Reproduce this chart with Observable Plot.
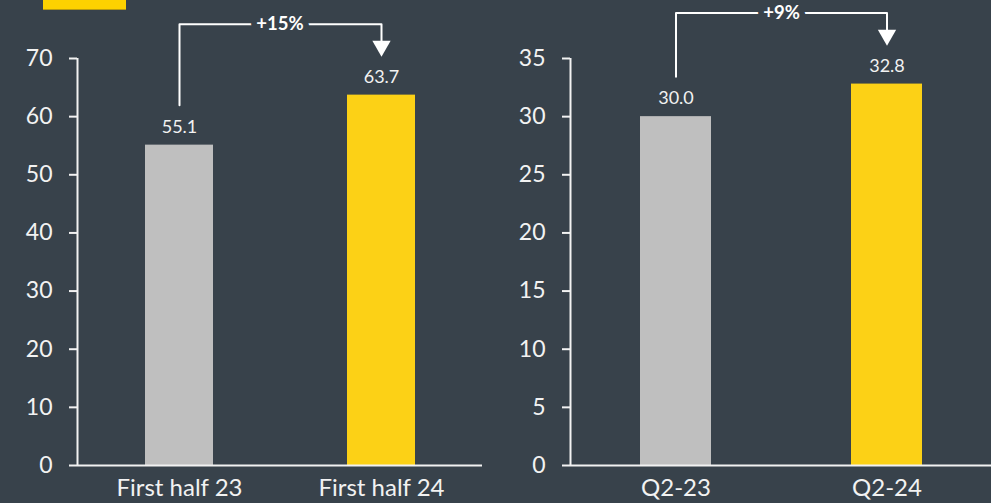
<!DOCTYPE html>
<html>
<head>
<meta charset="utf-8">
<script src="https://cdn.jsdelivr.net/npm/d3@7"></script>
<script src="https://cdn.jsdelivr.net/npm/@observablehq/plot@0.6"></script>
<style>
  html, body { margin: 0; padding: 0; background: #38424b; overflow: hidden; }
  #wrap { position: relative; width: 991px; height: 503px; background: #38424b; overflow: hidden; font-family: Lato, "Noto Sans", sans-serif; }
  #logo { position: absolute; left: 43px; top: 0; width: 83px; height: 9px; background: #fdd100; border-bottom: 1px solid #b89a10; }
  .panel { position: absolute; top: 0; width: 500px; height: 503px; }
  .panel svg { max-width: none !important; }
</style>
</head>
<body>
<div id="wrap">
  <div id="logo"></div>
  <div id="left" class="panel" style="left:0px"></div>
  <div id="right" class="panel" style="left:500px"></div>
</div>
<script>
// ---- data ----
const halfCategories = ["First half 23", "First half 24"];
const halfValues = [55.1, 63.7];
const halfChange = "+15%";
const halfTicks = [0, 10, 20, 30, 40, 50, 60, 70];

const quarterCategories = ["Q2-23", "Q2-24"];
const quarterValues = [30.0, 32.8];
const quarterChange = "+9%";
const quarterTicks = [0, 5, 10, 15, 20, 25, 30, 35];

const barColors = ["#bfbfbf", "#fcd116"];

// ---- styles ----
const BG = "#38424b";
const FG = "#f2f2f2";
const W = 500, H = 503, MT = 58, MB = 38;

function panel(categories, values, ticks, change, ml, mr) {
  const rows = categories.map((c, i) => ({cat: c, value: values[i], color: barColors[i]}));
  const yMax = ticks[ticks.length - 1];
  const k = (H - MT - MB) / yMax; // px per unit
  const frameW = W - ml - mr;
  const v1 = values[0], v2 = values[1];
  const yStart = v1 + 40 / k;
  const yTop = Math.max(v1, v2) + 71 / k;
  const yTip = v2 + 40 / k;
  const yTriTop = yTip + 14 / k;
  const path = [
    {cat: categories[0], y: yStart},
    {cat: categories[0], y: yTop},
    {cat: categories[1], y: yTop},
    {cat: categories[1], y: yTriTop}
  ];
  return Plot.plot({
    width: W,
    height: H,
    marginTop: MT,
    marginBottom: MB,
    marginLeft: ml,
    marginRight: mr,
    style: {background: "transparent", color: FG, fontFamily: "Lato, 'Noto Sans', sans-serif", overflow: "visible", maxWidth: "none"},
    x: {domain: categories, paddingInner: 0.664, paddingOuter: 0.332, label: null},
    y: {domain: [0, yMax], ticks: ticks, label: null},
    marks: [
      Plot.barY(rows, {x: "cat", y: "value", fill: "color"}),
      Plot.ruleY([0], {stroke: FG, strokeWidth: 2}),
      Plot.ruleX({length: 1}, {x: null, y1: 0, y2: yMax, dx: -frameW / 2, stroke: FG, strokeWidth: 2}),
      Plot.axisY({ticks: ticks, tickSize: 8, tickPadding: 17, fontSize: 23, stroke: FG, strokeWidth: 2, fill: FG, label: null}),
      Plot.axisX({tickSize: 0, tickPadding: 13, fontSize: 24, fill: FG, label: null, lineAnchor: "top"}),
      Plot.text(rows, {x: "cat", y: "value", text: d => d.value.toFixed(1), dy: -18, fontSize: 18, fill: FG}),
      Plot.line(path, {x: "cat", y: "y", stroke: "#ffffff", strokeWidth: 2, curve: "linear"}),
      Plot.dot([{cat: categories[1], y: yTip}], {x: "cat", y: "y", symbol: "triangle", rotate: 180, r: 6.8, dy: -9, fill: "#ffffff", stroke: "none"}),
      Plot.text([change], {y: yTop, text: d => d, frameAnchor: "middle", fontSize: 18.5, fontWeight: "bold", fill: "#ffffff", stroke: BG, strokeWidth: 12})
    ]
  });
}

document.getElementById("left").append(panel(halfCategories, halfValues, halfTicks, halfChange, 77, 18));
document.getElementById("right").append(panel(quarterCategories, quarterValues, quarterTicks, quarterChange, 70, 8));
</script>
</body>
</html>
